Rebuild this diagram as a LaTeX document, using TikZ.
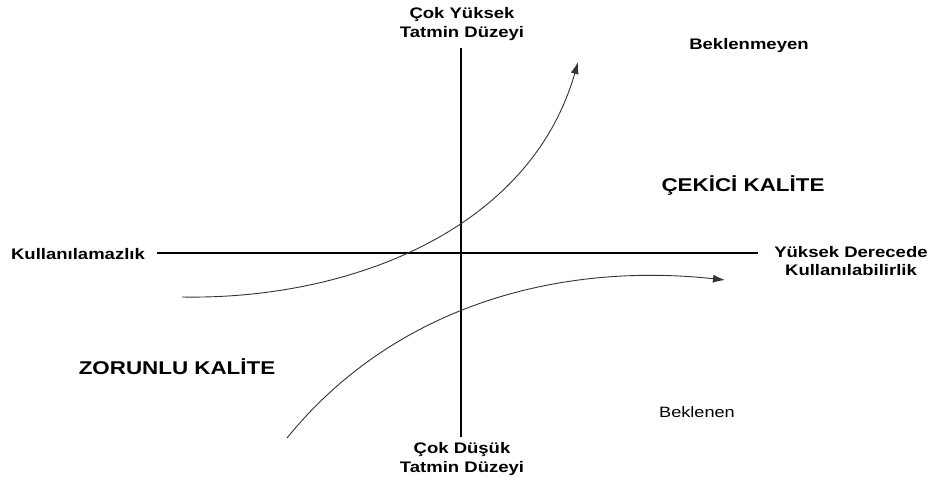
\documentclass[tikz,border=0pt]{standalone}
\usepackage{fontspec}
\setmainfont{Liberation Sans}[FakeStretch=1.21]
\usetikzlibrary{arrows.meta}
\begin{document}
\begin{tikzpicture}[x=1pt,y=-1pt,
  lbl/.style={font=\fontsize{15.3}{18.5}\selectfont\bfseries,align=center,inner sep=0pt},
  big/.style={font=\fontsize{18.5}{22}\selectfont\bfseries,inner sep=0pt},
  axis/.style={line width=1.3pt,black},
  curve/.style={line width=0.9pt,black!80,-{Latex[length=12pt,width=8pt]}}]
\useasboundingbox (0,0) rectangle (938,485);
% axes end points
\coordinate (vt) at (461,48);
\coordinate (vb) at (461,437);
\coordinate (hl) at (157,253);
\coordinate (hr) at (758,253);
\draw[axis] (vt) -- (vb);
\draw[axis] (hl) -- (hr);
% labels
\node[lbl] (top) at (462,24) {Çok Yüksek\\Tatmin Düzeyi};
\node[lbl] (bot) at (462,459) {Çok Düşük\\Tatmin Düzeyi};
\node[lbl] (left) at (78,254) {Kullanılamazlık};
\node[lbl] (right) at (851,261) {Yüksek Derecede\\Kullanılabilirlik};
\node[lbl] (bm) at (749,46) {Beklenmeyen};
\node[big] (ck) at (743,185) {ÇEKİCİ KALİTE};
\node[big] (zk) at (177,367) {ZORUNLU KALİTE};
\node[font=\fontsize{15}{18}\selectfont,inner sep=0pt] (bk) at (697,412) {Beklenen};
% curves
\coordinate (u0) at (182,297);
\coordinate (u1) at (578,62);
\coordinate (l0) at (287,438);
\coordinate (l1) at (725,280);
\draw[curve] (u0) .. controls (350,300) and (530,230) .. (u1);
\draw[curve] (l0) .. controls (395,305) and (560,262) .. (l1);
\end{tikzpicture}
\end{document}
